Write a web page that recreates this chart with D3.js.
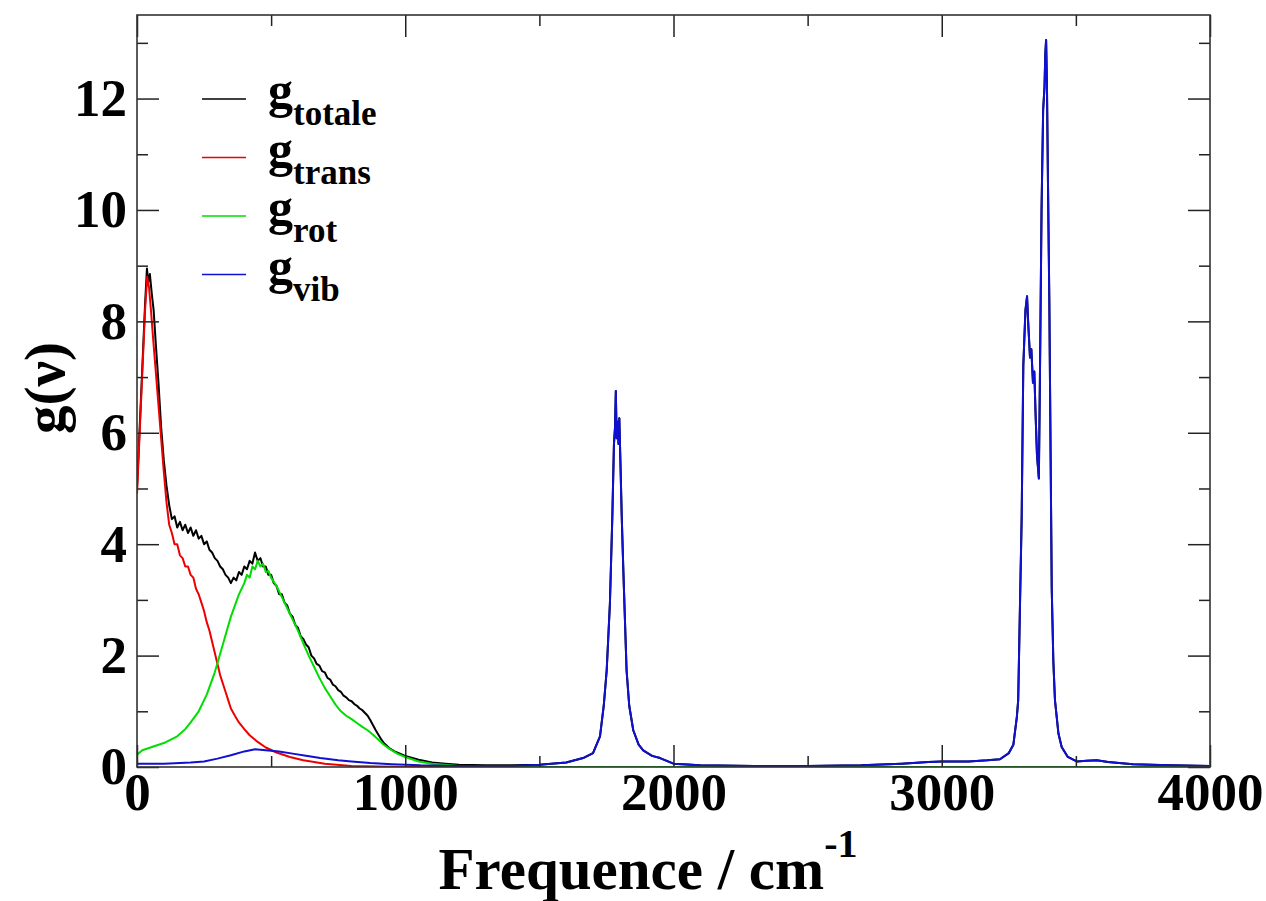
<!DOCTYPE html>
<html><head><meta charset="utf-8">
<script src="https://cdn.jsdelivr.net/npm/d3@7"></script>
<style>body{margin:0;background:#fff}svg{display:block}</style>
</head><body>
<svg id="c" width="1266" height="901"></svg>
<script>
// ---------- data ----------
const seriesSubs = ["totale", "trans", "rot", "vib"];
const xTickLabels = [0, 1000, 2000, 3000, 4000];
const yTickLabels = [0, 2, 4, 6, 8, 10, 12];

const vibFreq = [0,100,200,250,300,350,400,440,480,530,580,630,683,750,800,870,950,1056,1200,1400,1500,1600,1663,1700,1726,1740,1751,1763,1772,1778,1782,1785,1788,1792,1795,1798,1802,1807,1813,1825,1835,1850,1870,1887,1920,1950,2000,2100,2300,2500,2700,2850,2950,3000,3100,3170,3217,3250,3267,3280,3285,3292,3298,3304,3312,3318,3322,3329,3334,3340,3345,3350,3355,3360,3362,3366,3372,3378,3383,3386,3389,3392,3396,3401,3406,3410,3416,3422,3435,3447,3470,3503,3540,3578,3620,3713,3850,4000];
const vibVals = [0.06,0.06,0.08,0.1,0.15,0.21,0.28,0.32,0.3,0.28,0.24,0.2,0.16,0.12,0.1,0.07,0.05,0.03,0.02,0.02,0.04,0.08,0.16,0.25,0.55,1.1,1.74,2.94,4.5,5.8,6.1,6.75,5.9,6.2,5.8,6.26,5.5,4.5,3.53,1.74,1.1,0.66,0.4,0.3,0.2,0.16,0.06,0.03,0.02,0.02,0.03,0.06,0.09,0.1,0.1,0.12,0.14,0.25,0.4,0.9,1.2,3.0,4.5,7.2,8.2,8.45,8.0,7.35,7.5,6.9,7.1,6.3,5.6,5.3,5.18,7.0,10.0,11.8,12.2,12.8,13.05,12.3,10.5,8.38,5.5,3.2,1.9,1.2,0.6,0.36,0.18,0.1,0.11,0.12,0.09,0.05,0.03,0.02];

const totalFreq = [0,10,20,30,37,42,48,55,62,70,80,90,100,110,120,130,140,150,160,170,180,190,200,210,220,230,240,250,260,270,280,290,300,310,320,330,340,350,360,370,380,390,400,410,420,430,440,450,460,470,480,490,500,510,520,530,540,550,560,570,580,590,600,610,620,630,640,650,660,670,680,690,700,710,720,730,740,750,760,770,780,790,800,810,820,830,840,850,860,870,880,890,900,910,920,940,960,980,1000,1050,1100,1150,1200,1300,1400,1500,1600,1663,1700,1726,1740,1751,1763,1772,1778,1782,1785,1788,1792,1795,1798,1802,1807,1813,1825,1835,1850,1870,1887,1920,1950,2000,2100,2300,2500,2700,2850,2950,3000,3100,3170,3217,3250,3267,3280,3285,3292,3298,3304,3312,3318,3322,3329,3334,3340,3345,3350,3355,3360,3362,3366,3372,3378,3383,3386,3389,3392,3396,3401,3406,3410,3416,3422,3435,3447,3470,3503,3540,3578,3620,3713,3850,4000];
const totalVals = [5.0,6.1,7.2,8.3,8.95,8.7,8.85,8.5,8.2,7.6,6.9,6.1,5.5,5.05,4.7,4.45,4.5,4.3,4.4,4.25,4.35,4.2,4.3,4.15,4.25,4.1,4.15,4.0,4.05,3.9,3.85,3.75,3.7,3.6,3.55,3.45,3.4,3.3,3.4,3.35,3.5,3.45,3.6,3.55,3.7,3.65,3.85,3.7,3.75,3.6,3.6,3.45,3.45,3.3,3.25,3.1,3.1,2.95,2.9,2.75,2.7,2.55,2.5,2.35,2.3,2.2,2.15,2.0,1.95,1.85,1.82,1.72,1.7,1.6,1.57,1.48,1.45,1.38,1.35,1.28,1.25,1.2,1.18,1.13,1.1,1.05,1.02,0.97,0.92,0.84,0.75,0.66,0.58,0.5,0.43,0.34,0.28,0.24,0.2,0.13,0.08,0.06,0.04,0.03,0.03,0.04,0.08,0.16,0.25,0.55,1.1,1.74,2.94,4.5,5.8,6.1,6.75,5.9,6.2,5.8,6.26,5.5,4.5,3.53,1.74,1.1,0.66,0.4,0.3,0.2,0.16,0.06,0.03,0.02,0.02,0.03,0.06,0.09,0.1,0.1,0.12,0.14,0.25,0.4,0.9,1.2,3.0,4.5,7.2,8.2,8.45,8.0,7.35,7.5,6.9,7.1,6.3,5.6,5.3,5.18,7.0,10.0,11.8,12.2,12.8,13.05,12.3,10.5,8.38,5.5,3.2,1.9,1.2,0.6,0.36,0.18,0.1,0.11,0.12,0.09,0.05,0.03,0.02];

const transFreq = [0,10,20,30,38,45,52,60,70,80,90,100,110,120,130,140,150,160,170,180,190,200,210,220,230,240,250,260,270,280,290,300,310,320,330,340,350,365,380,400,420,450,480,520,570,620,700,800,900,1000,4000];
const transVals = [4.9,6.0,7.1,8.2,8.8,8.6,8.2,7.7,7.1,6.5,5.9,5.3,4.75,4.35,4.2,4.0,4.0,3.8,3.75,3.6,3.6,3.45,3.4,3.2,3.1,2.95,2.8,2.6,2.45,2.25,2.05,1.85,1.65,1.5,1.35,1.2,1.05,0.92,0.8,0.68,0.57,0.45,0.35,0.26,0.18,0.12,0.06,0.02,0.01,0,0];

const rotFreq = [0,20,50,100,150,180,200,230,260,290,320,350,380,400,410,420,430,440,450,460,470,480,490,500,520,540,560,580,600,620,640,660,680,700,720,740,760,780,800,820,840,860,880,900,920,940,970,1000,1050,1100,1200,1300,1500,4000];
const rotVals = [0.22,0.3,0.35,0.43,0.55,0.68,0.8,1.0,1.3,1.7,2.2,2.7,3.1,3.3,3.45,3.4,3.6,3.55,3.7,3.6,3.65,3.5,3.52,3.4,3.25,3.05,2.85,2.65,2.45,2.22,2.0,1.8,1.6,1.42,1.27,1.12,1.0,0.92,0.86,0.79,0.72,0.66,0.58,0.49,0.4,0.33,0.24,0.18,0.1,0.06,0.02,0.01,0,0];

// ---------- layout ----------
const colors = ["#000000", "#ee0000", "#00dd00", "#1010d0"];
const W = 1266, H = 901;
const m = {left: 137, top: 15, right: 56, bottom: 134};
const iw = W - m.left - m.right, ih = H - m.top - m.bottom;
const FONT = "'Liberation Serif','Times New Roman',serif";

const svg = d3.select("#c");
const x = d3.scaleLinear().domain([0, 4000]).range([0, iw]);
const y = d3.scaleLinear().domain([0, 13.5]).range([ih, 0]);
const g = svg.append("g").attr("transform", `translate(${m.left},${m.top})`);

g.append("clipPath").attr("id", "clip").append("rect").attr("width", iw).attr("height", ih);

const series = [
  {f: totalFreq, v: totalVals},
  {f: transFreq, v: transVals},
  {f: rotFreq, v: rotVals},
  {f: vibFreq, v: vibVals}
];
const line = d3.line().x(d => x(d[0])).y(d => y(d[1]));
const plot = g.append("g").attr("clip-path", "url(#clip)");
series.forEach((s, i) => {
  const pts = s.f.map((f, k) => [f, s.v[k]]);
  plot.append("path").datum(pts).attr("d", line)
    .attr("fill", "none").attr("stroke", colors[i]).attr("stroke-width", 2)
    .attr("stroke-linejoin", "round");
});

// axes
const xMinor = d3.range(500, 4000, 1000);
const yMinor = d3.range(1, 14, 2);
function styleAxis(sel) {
  sel.select(".domain").remove();
  sel.selectAll("line").attr("stroke", "#222").attr("stroke-width", 1.5);
  sel.selectAll("text").attr("font-family", FONT).attr("font-weight", "bold")
    .attr("font-size", 53).attr("fill", "#000");
}
g.append("g").attr("transform", `translate(0,${ih})`)
  .call(d3.axisBottom(x).tickValues(xTickLabels).tickSize(-22).tickPadding(5).tickFormat(d3.format("d")))
  .call(styleAxis);
g.append("g").attr("transform", `translate(0,${ih})`)
  .call(d3.axisBottom(x).tickValues(xMinor).tickSize(-11).tickFormat(""))
  .call(styleAxis);
g.append("g")
  .call(d3.axisTop(x).tickValues(xTickLabels).tickSize(-22).tickFormat(""))
  .call(styleAxis);
g.append("g")
  .call(d3.axisTop(x).tickValues(xMinor).tickSize(-11).tickFormat(""))
  .call(styleAxis);
g.append("g")
  .call(d3.axisLeft(y).tickValues(yTickLabels).tickSize(-22).tickPadding(10).tickFormat(d3.format("d")))
  .call(styleAxis);
g.append("g")
  .call(d3.axisLeft(y).tickValues(yMinor).tickSize(-11).tickFormat(""))
  .call(styleAxis);
g.append("g").attr("transform", `translate(${iw},0)`)
  .call(d3.axisRight(y).tickValues(yTickLabels).tickSize(-22).tickFormat(""))
  .call(styleAxis);
g.append("g").attr("transform", `translate(${iw},0)`)
  .call(d3.axisRight(y).tickValues(yMinor).tickSize(-11).tickFormat(""))
  .call(styleAxis);

// frame
g.append("rect").attr("width", iw).attr("height", ih)
  .attr("fill", "none").attr("stroke", "#333").attr("stroke-width", 1.6);

// legend
const leg = g.append("g").attr("transform", "translate(65,84)");
seriesSubs.forEach((s, i) => {
  const row = leg.append("g").attr("transform", `translate(0,${i * 58.5})`);
  row.append("line").attr("x1", 0).attr("x2", 44).attr("y1", 0).attr("y2", 0)
    .attr("stroke", colors[i]).attr("stroke-width", 1.6);
  const t = row.append("text").attr("x", 66).attr("y", 8)
    .attr("font-family", FONT).attr("font-weight", "bold").attr("font-size", 50);
  t.append("tspan").text("g");
  t.append("tspan").attr("dy", 18).attr("font-size", 35).text(s);
});

// axis titles
const xt = svg.append("text").attr("x", 648).attr("y", 889).attr("text-anchor", "middle")
  .attr("font-family", FONT).attr("font-weight", "bold").attr("font-size", 59);
xt.append("tspan").text("Frequence / cm");
xt.append("tspan").attr("dy", -32).attr("font-size", 40).text("-1");

svg.append("text").attr("transform", "translate(64,388) rotate(-90)")
  .attr("text-anchor", "middle").attr("font-family", FONT).attr("font-weight", "bold")
  .attr("font-size", 57).text("g(ν)");
</script>
</body></html>
